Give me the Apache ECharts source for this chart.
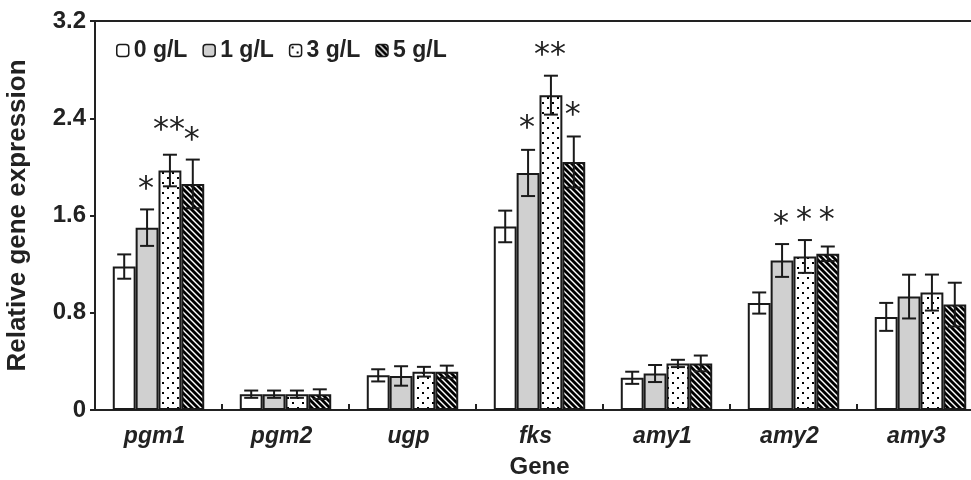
<!DOCTYPE html>
<html>
<head>
<meta charset="utf-8">
<script src="https://cdn.jsdelivr.net/npm/echarts@6/dist/echarts.min.js"></script>
<style>
html,body{margin:0;padding:0;background:#fff;}
#chart{width:971px;height:480px;}
</style>
</head>
<body>
<div id="chart"></div>
<script>
// ---- data ----
const genes = ['pgm1', 'pgm2', 'ugp', 'fks', 'amy1', 'amy2', 'amy3'];
const seriesNames = ['0 g/L', '1 g/L', '3 g/L', '5 g/L'];
const mean0 = [1.18, 0.13, 0.285, 1.51, 0.265, 0.88, 0.766];
const mean1 = [1.50, 0.13, 0.28, 1.95, 0.30, 1.23, 0.933];
const mean3 = [1.97, 0.13, 0.315, 2.59, 0.383, 1.263, 0.966];
const mean5 = [1.86, 0.13, 0.315, 2.04, 0.383, 1.285, 0.867];
const err0 = [0.10, 0.03, 0.05, 0.13, 0.05, 0.087, 0.115];
const err1 = [0.15, 0.03, 0.08, 0.19, 0.07, 0.135, 0.18];
const err3 = [0.13, 0.03, 0.04, 0.16, 0.03, 0.135, 0.148];
const err5 = [0.20, 0.04, 0.05, 0.21, 0.065, 0.06, 0.18];
const yTicks = [0, 0.8, 1.6, 2.4, 3.2];
// significance marks
const sigGene = [0, 0, 0, 3, 3, 3, 5, 5, 5];
const sigBar = [1, 2, 3, 1, 2, 3, 1, 2, 3];
const sigText = ['*', '**', '*', '*', '**', '*', '*', '*', '*'];
const sigY = [1.88, 2.36, 2.28, 2.38, 2.98, 2.49, 1.59, 1.62, 1.62];

const means = [mean0, mean1, mean3, mean5];
const errs = [err0, err1, err3, err5];

// ---- patterns ----
function dotPattern() {
  const c = document.createElement('canvas');
  c.width = 10; c.height = 10;
  const g = c.getContext('2d');
  g.fillStyle = '#fff'; g.fillRect(0, 0, 10, 10);
  g.fillStyle = '#000';
  g.fillRect(2, 2, 2, 2);
  g.fillRect(7, 7, 2, 2);
  return c;
}
function stripePattern() {
  const s = 6;
  const c = document.createElement('canvas');
  c.width = s; c.height = s;
  const g = c.getContext('2d');
  g.fillStyle = '#fff'; g.fillRect(0, 0, s, s);
  g.strokeStyle = '#000'; g.lineWidth = 2.8;
  for (let k = -1; k <= 1; k++) {
    g.beginPath();
    g.moveTo(k * s - 1, -1);
    g.lineTo(k * s + s + 1, s + 1);
    g.stroke();
  }
  return c;
}
const fills = ['#ffffff', '#d0d0d0', { image: dotPattern(), repeat: 'repeat' }, { image: stripePattern(), repeat: 'repeat' }];

const CAT_GAP = 0.28;
const font = '"Liberation Sans", Arial, sans-serif';

const barSeries = seriesNames.map((name, i) => ({
  name: name,
  type: 'bar',
  barGap: '0%',
  barCategoryGap: (CAT_GAP * 100) + '%',
  data: means[i],
  itemStyle: { color: fills[i], borderColor: '#1a1a1a', borderWidth: 2 },
  emphasis: { disabled: true },
  z: 2
}));

const errSeries = seriesNames.map((name, i) => ({
  type: 'custom',
  name: 'err' + i,
  silent: true,
  z: 5,
  data: genes.map((g, k) => [k, means[i][k], errs[i][k]]),
  renderItem: function (params, api) {
    const cat = api.value(0), m = api.value(1), e = api.value(2);
    const bw = api.size([1, 0])[0];
    const barW = bw * (1 - CAT_GAP) / 4;
    const cx = api.coord([cat, m])[0] + (i - 1.5) * barW;
    const yt = api.coord([cat, m + e])[1];
    const yb = api.coord([cat, Math.max(0, m - e)])[1];
    const hw = 7;
    const st = { stroke: '#1a1a1a', lineWidth: 2 };
    return {
      type: 'group',
      children: [
        { type: 'line', shape: { x1: cx, y1: yt, x2: cx, y2: yb }, style: st },
        { type: 'line', shape: { x1: cx - hw, y1: yt, x2: cx + hw, y2: yt }, style: st },
        { type: 'line', shape: { x1: cx - hw, y1: yb, x2: cx + hw, y2: yb }, style: st }
      ]
    };
  }
}));

const sigSeries = {
  type: 'custom',
  name: 'sig',
  silent: true,
  z: 6,
  data: sigGene.map((g, k) => [g, sigY[k], sigBar[k]]),
  renderItem: function (params, api) {
    const cat = api.value(0), y = api.value(1), b = api.value(2);
    const txt = sigText[params.dataIndex];
    const bw = api.size([1, 0])[0];
    const barW = bw * (1 - CAT_GAP) / 4;
    const p = api.coord([cat, y]);
    const cx = p[0] + (b - 1.5) * barW;
    return {
      type: 'text',
      style: {
        text: txt, x: cx - 1, y: p[1] + 8,
        align: 'center', verticalAlign: 'middle',
        font: '32px "DejaVu Sans", sans-serif', fill: '#222'
      }
    };
  }
};

const chart = echarts.init(document.getElementById('chart'), null, { renderer: 'canvas' });
chart.setOption({
  animation: false,
  backgroundColor: '#fff',
  grid: { left: 95, top: 21, width: 889, height: 389, outerBoundsMode: 'none', containLabel: false,
    show: true, borderColor: '#222', borderWidth: 2, backgroundColor: 'transparent' },
  legend: {
    data: seriesNames,
    left: 116, top: 39, padding: 0,
    itemWidth: 12, itemHeight: 12, itemGap: 15,
    textStyle: { fontFamily: font, fontWeight: 'bold', fontSize: 23, color: '#222' },
    itemStyle: { borderColor: '#1a1a1a', borderWidth: 1.5 },
    selectedMode: false
  },
  xAxis: {
    type: 'category',
    data: genes,
    name: 'Gene',
    nameLocation: 'middle',
    nameGap: 45,
    nameTextStyle: { fontFamily: font, fontWeight: 'bold', fontSize: 24, color: '#222' },
    axisLine: { lineStyle: { color: '#222', width: 2 } },
    axisTick: { show: true, inside: true, length: 6, lineStyle: { color: '#222', width: 2 } },
    axisLabel: { fontFamily: font, fontWeight: 'bold', fontStyle: 'italic', fontSize: 23, color: '#222', margin: 15,
      padding: [0, 8, 0, 0] },
    splitLine: { show: false }
  },
  yAxis: {
    type: 'value',
    min: yTicks[0], max: yTicks[yTicks.length - 1], interval: 0.8,
    name: 'Relative gene expression',
    nameLocation: 'middle',
    nameGap: 64,
    nameRotate: 90,
    nameTextStyle: { fontFamily: font, fontWeight: 'bold', fontSize: 26, color: '#222' },
    axisLine: { show: true, lineStyle: { color: '#222', width: 2 } },
    axisTick: { show: true, length: 5, lineStyle: { color: '#222', width: 2 } },
    axisLabel: { fontFamily: font, fontWeight: 'bold', fontSize: 24, color: '#222', margin: 9,
      formatter: v => String(Math.round(v * 10) / 10) },
    splitLine: { show: false }
  },
  series: [...barSeries, ...errSeries, sigSeries]
});
</script>
</body>
</html>
